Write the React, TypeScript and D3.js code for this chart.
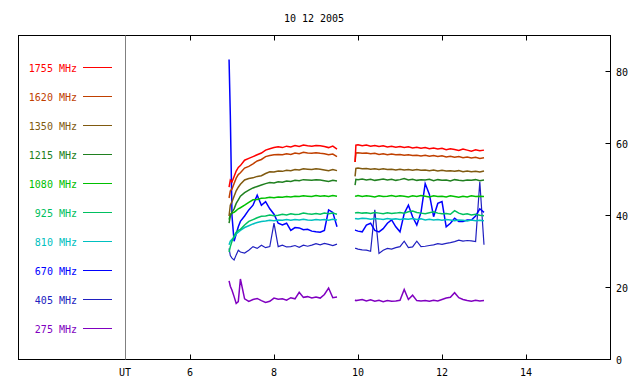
import * as d3 from "d3";

// time grid (UT hours) for the two observing segments
const timesA = [6.93, 6.96, 7.0, 7.05, 7.1, 7.15, 7.2, 7.3, 7.4, 7.5, 7.6, 7.7, 7.8, 7.9, 8.0, 8.1, 8.2, 8.3, 8.4, 8.5, 8.6, 8.7, 8.8, 8.9, 9.0, 9.1, 9.2, 9.3, 9.4, 9.5];
const timesB = [9.93, 9.95, 10.0, 10.1, 10.2, 10.3, 10.4, 10.5, 10.6, 10.7, 10.8, 10.9, 11.0, 11.1, 11.2, 11.3, 11.4, 11.5, 11.6, 11.7, 11.8, 11.9, 12.0, 12.1, 12.2, 12.3, 12.4, 12.5, 12.6, 12.7, 12.8, 12.9, 13.0];

const f1755A = [48, 50, 49.5, 51, 52.5, 53.5, 54, 55.5, 56, 56.5, 57, 57.5, 58.3, 58.7, 59, 59.2, 59, 59.4, 59.2, 59.6, 59.3, 59.7, 59.5, 59.4, 59.6, 59.5, 59.3, 59.0, 59.4, 58.6];
const f1755B = [55, 59.7, 59.8, 59.5, 59.7, 59.4, 59.6, 59.3, 59.5, 59.2, 59.4, 59.1, 59.3, 59.0, 59.2, 58.9, 59.1, 58.8, 59.0, 58.7, 58.9, 58.6, 58.8, 58.4, 58.7, 58.5, 58.2, 58.6, 58.3, 58.0, 58.4, 58.1, 58.3];
const f1620A = [45, 47, 47.5, 49, 50.5, 51.5, 52, 53.3, 53.8, 54.5, 55.3, 55.7, 56.5, 56.8, 57, 57.1, 57, 57.3, 57.1, 57.5, 57.3, 57.7, 57.5, 57.4, 57.6, 57.4, 57.3, 57.0, 57.2, 56.5];
const f1620B = [55, 57.5, 57.6, 57.4, 57.5, 57.3, 57.4, 57.1, 57.3, 57.0, 57.2, 57.0, 57.1, 56.9, 57.0, 56.8, 56.9, 56.7, 56.9, 56.6, 56.8, 56.5, 56.7, 56.4, 56.6, 56.3, 56.5, 56.2, 56.4, 56.1, 56.3, 56.0, 56.2];
const f1350A = [40, 43, 44, 45.5, 47, 48, 48.8, 50, 50.4, 50.6, 51, 51.2, 51.8, 52.3, 52.2, 52.5, 52.4, 52.7, 52.6, 52.9, 52.8, 53.1, 53.0, 52.9, 53.1, 53.0, 52.8, 52.6, 52.9, 52.6];
const f1350B = [51, 53.2, 53.3, 53.1, 53.2, 53.0, 53.1, 52.9, 53.1, 52.9, 53.0, 52.8, 53.0, 52.8, 52.9, 52.7, 52.9, 52.7, 52.8, 52.6, 52.8, 52.5, 52.7, 52.5, 52.6, 52.4, 52.6, 52.3, 52.5, 52.3, 52.4, 52.2, 52.5];
const f1215A = [38, 40, 41, 42, 43.5, 44.5, 45.5, 46.5, 47.2, 47.8, 48.2, 48.6, 49.0, 49.3, 49.2, 49.5, 49.4, 49.7, 49.6, 49.9, 49.8, 50.1, 50.0, 49.9, 50.1, 50.0, 49.8, 49.6, 49.9, 49.7];
const f1215B = [48.6, 50.2, 50.1, 50.3, 50.0, 50.2, 49.9, 50.1, 50.3, 50.0, 50.2, 49.9, 50.1, 50.4, 50.0, 50.2, 49.9, 50.1, 50.0, 50.2, 49.8, 50.1, 49.9, 50.0, 49.7, 50.1, 49.9, 49.8, 50.0, 49.9, 50.1, 49.8, 50.0];
const f1080A = [39, 40.5, 40.8, 41, 41.5, 42, 42.3, 43, 43.8, 44.5, 44.6, 44.9, 45.0, 45.2, 45.1, 45.3, 45.2, 45.4, 45.3, 45.5, 45.4, 45.6, 45.5, 45.4, 45.7, 45.5, 45.6, 45.4, 45.7, 45.5];
const f1080B = [45.6, 45.5, 45.7, 45.4, 45.6, 45.5, 45.3, 45.6, 45.4, 45.5, 45.7, 45.4, 45.6, 45.5, 45.3, 45.6, 45.4, 45.7, 45.5, 45.3, 45.6, 45.4, 45.5, 45.3, 45.6, 45.4, 45.2, 45.5, 45.3, 45.6, 45.4, 45.5, 45.4];
const f925A = [30, 31.5, 33, 34.5, 35.5, 36, 36.3, 37.5, 38.5, 39, 39.5, 39.9, 40.0, 40.3, 40.1, 40.2, 40.5, 40.3, 40.6, 40.4, 40.5, 40.8, 40.6, 40.5, 40.7, 40.5, 40.8, 40.6, 40.8, 40.5];
const f925B = [40.8, 40.9, 41.0, 40.8, 40.9, 40.7, 41.0, 40.8, 40.6, 40.9, 40.7, 40.8, 41.0, 40.8, 41.2, 41.4, 41.0, 40.8, 40.6, 40.9, 41.2, 40.8, 40.6, 40.7, 40.5, 41.5, 40.8, 40.4, 40.6, 40.3, 40.5, 40.2, 40.1];
const f810A = [32, 33, 33.5, 34, 35, 35.5, 36, 36.8, 37.3, 37.8, 38.2, 38.5, 38.6, 38.8, 38.7, 38.9, 38.8, 39.0, 38.8, 39.0, 38.9, 39.1, 38.9, 38.8, 39.0, 38.9, 39.0, 38.8, 39.1, 38.9];
const f810B = [39.2, 39.3, 39.2, 39.4, 39.3, 39.1, 39.3, 39.2, 39.0, 39.3, 39.1, 39.2, 39.0, 39.2, 39.1, 39.3, 39.0, 39.2, 38.9, 39.1, 38.9, 39.0, 38.8, 39.0, 38.9, 38.7, 38.9, 38.8, 38.6, 38.9, 38.7, 38.8, 38.7];
const f670A = [83.5, 68, 40, 33, 35, 37, 38.5, 40, 41.7, 43, 45.8, 43, 44, 42, 40.5, 38, 37.5, 38, 36, 36.8, 36.7, 36.2, 36.3, 35.8, 35.6, 35.5, 36, 41.7, 41, 37];
const f670B = [36.1, 36, 35.8, 35.6, 37.5, 38, 36, 35.6, 36.5, 38, 38.9, 37, 35.6, 40.7, 43, 39.8, 37.5, 41, 49, 46, 39.8, 43.5, 44, 37, 38, 39.4, 38.5, 38.5, 38.9, 38.9, 40, 42, 41];
const f405A = [31, 29, 28.3, 27.8, 29.2, 30.5, 30, 29.7, 30.5, 31.5, 31, 31.9, 31.2, 31.5, 38, 31.5, 31.9, 31.4, 31.5, 31.8, 31.3, 31.9, 31.6, 31.9, 32.3, 32.0, 32.4, 32.1, 31.8, 32.2];
const f405B = [31, 31, 30.8, 30.6, 30.5, 30.2, 41.7, 29.6, 30.5, 31, 30.8, 31.2, 31.5, 33, 31.2, 31.4, 33, 31.5, 31.6, 31.8, 32, 32.3, 32.1, 32.4, 32.6, 32.9, 33.3, 33.0, 33.2, 33.1, 32.9, 49.5, 32];
const f275A = [22, 20.5, 19.4, 17.6, 15.7, 16.2, 22.5, 17, 16.3, 16.8, 17.1, 16.5, 16, 16.3, 17.2, 16.9, 17.0, 16.6, 17.3, 17.0, 18.8, 17.4, 17.6, 17.2, 17.5, 17.2, 18.2, 20, 17.3, 17.5];
const f275B = [16.7, 16.5, 16.6, 16.8, 16.4, 16.7, 16.3, 16.6, 16.2, 16.5, 16.3, 16.4, 16.6, 19.6, 16.8, 18, 16.5, 16.4, 16.5, 16.3, 16.6, 16.4, 16.8, 17.2, 17.4, 18.7, 17.3, 16.8, 16.5, 16.3, 16.6, 16.4, 16.5];

const labels = ["1755 MHz", "1620 MHz", "1350 MHz", "1215 MHz", "1080 MHz", "925 MHz", "810 MHz", "670 MHz", "405 MHz", "275 MHz"];
const colors = ["#ff0000", "#c04000", "#805a10", "#208020", "#00c000", "#00c060", "#00c0c0", "#0000ff", "#2020c0", "#8000c0"];
const valuesA = [f1755A, f1620A, f1350A, f1215A, f1080A, f925A, f810A, f670A, f405A, f275A];
const valuesB = [f1755B, f1620B, f1350B, f1215B, f1080B, f925B, f810B, f670B, f405B, f275B];

const xTicks = [6, 8, 10, 12, 14];
const yTicks = [0, 20, 40, 60, 80];
const title = "10 12 2005";

const W = 640;
const H = 384;
const frame = { left: 18.5, right: 610.5, top: 35.5, bottom: 359.5 };
const font = "'DejaVu Sans Mono', monospace";

export default function App() {
  const x = d3.scaleLinear().domain([6, 14]).range([190, 526]);
  const y = d3.scaleLinear().domain([0, 90]).range([360, 36]);
  const legendY = d3.scalePoint<string>().domain(labels).range([68, 329]);

  const line = d3
    .line<[number, number]>()
    .x((d) => x(d[0]))
    .y((d) => y(d[1]));

  const pairs = (t: number[], v: number[]) => t.map((tt, i) => [tt, v[i]] as [number, number]);
  const order = labels.map((_, i) => i).reverse();

  return (
    <svg
      width={W}
      height={H}
      style={{ position: "absolute", left: 0, top: 0, background: "#fff" }}
      fontFamily={font}
    >
      <rect x={0} y={0} width={W} height={H} fill="#fff" />
      <text x={314} y={22} fontSize={10} textAnchor="middle" fill="#000">
        {title}
      </text>

      {/* series, drawn bottom-up so the upper bands sit on top */}
      <g className="series" fill="none">
        {order.map((i) => (
          <g key={"s" + labels[i]} stroke={colors[i]} strokeWidth={i === 8 ? 1.2 : 1.5}>
            <path d={line(pairs(timesA, valuesA[i])) ?? ""} />
            <path d={line(pairs(timesB, valuesB[i])) ?? ""} />
          </g>
        ))}
      </g>

      {/* legend */}
      <g className="legend">
        {labels.map((l, i) => (
          <g key={"l" + l}>
            <text x={77} y={(legendY(l) ?? 0) + 3.5} fontSize={10} textAnchor="end" fill={colors[i]}>
              {l}
            </text>
            <line x1={83} x2={112} y1={(legendY(l) ?? 0) - 0.5} y2={(legendY(l) ?? 0) - 0.5} stroke={colors[i]} strokeWidth={1} />
          </g>
        ))}
      </g>

      {/* frame */}
      <rect
        x={frame.left}
        y={frame.top}
        width={frame.right - frame.left}
        height={frame.bottom - frame.top}
        fill="none"
        stroke="#000"
        strokeWidth={1}
      />
      <line x1={125.5} x2={125.5} y1={frame.top} y2={frame.bottom} stroke="#808080" strokeWidth={1} />

      {/* x ticks top and bottom */}
      <g className="x-axis">
        {xTicks.map((t) => (
          <g key={"x" + t}>
            <line x1={Math.round(x(t)) + 0.5} x2={Math.round(x(t)) + 0.5} y1={frame.top} y2={frame.top + 5} stroke="#000" />
            <line x1={Math.round(x(t)) + 0.5} x2={Math.round(x(t)) + 0.5} y1={frame.bottom} y2={frame.bottom - 5} stroke="#000" />
            <text x={x(t)} y={376} fontSize={10} textAnchor="middle" fill="#000">
              {t}
            </text>
          </g>
        ))}
        <text x={125} y={376} fontSize={10} textAnchor="middle" fill="#000">
          UT
        </text>
      </g>

      {/* right y axis */}
      <g className="y-axis">
        {yTicks.map((t) => (
          <g key={"y" + t}>
            <line x1={frame.right - 5} x2={frame.right} y1={Math.round(y(t)) - 0.5} y2={Math.round(y(t)) - 0.5} stroke="#000" />
            <text x={616} y={y(t) + 3.5} fontSize={10} fill="#000">
              {t}
            </text>
          </g>
        ))}
      </g>
    </svg>
  );
}
